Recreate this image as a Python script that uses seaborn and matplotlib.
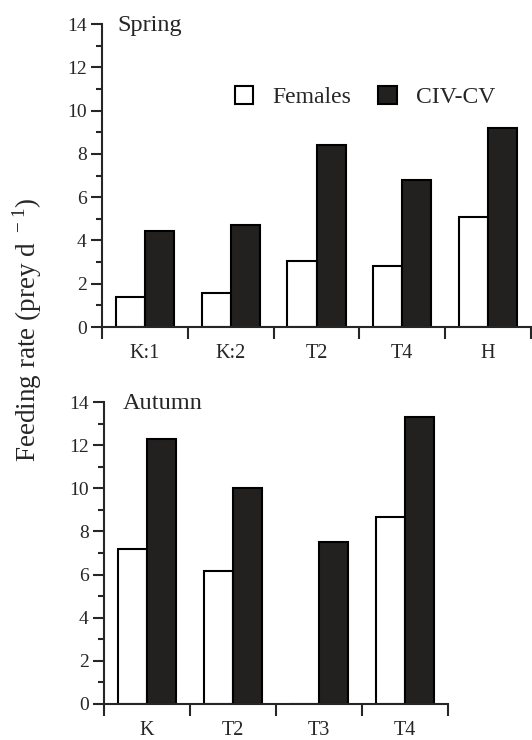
import seaborn as sns
import pandas as pd
import matplotlib.pyplot as plt
from matplotlib.ticker import MultipleLocator, FixedLocator, NullFormatter

sites_spring = ["K:1", "K:2", "T2", "T4", "H"]
females_spring = [1.4, 1.55, 3.05, 2.8, 5.1]
civcv_spring = [4.45, 4.7, 8.4, 6.8, 9.2]

sites_autumn = ["K", "T2", "T3", "T4"]
females_autumn = [7.2, 6.15, 0.0, 8.65]
civcv_autumn = [12.3, 10.0, 7.5, 13.3]

stages = ["Females", "CIV-CV"]
colours = {"Females": "white", "CIV-CV": "#231f20"}

sns.set_style("ticks")
plt.rcParams['font.family'] = ['Liberation Serif', 'DejaVu Serif']
plt.rcParams['mathtext.fontset'] = 'custom'
plt.rcParams['mathtext.rm'] = 'Liberation Serif'


def long_table(sites, fem, civ):
    rows = []
    for s, f, c in zip(sites, fem, civ):
        rows.append({"site": s, "stage": "Females", "rate": f})
        rows.append({"site": s, "stage": "CIV-CV", "rate": c})
    return pd.DataFrame(rows)


def panel(ax, sites, fem, civ, title, title_x, show_legend=False):
    df = long_table(sites, fem, civ)
    sns.barplot(data=df, x="site", y="rate", hue="stage", hue_order=stages,
                order=sites, palette=colours, edgecolor="black", linewidth=1.5,
                width=0.68, gap=0, ax=ax, legend=show_legend)
    n = len(sites)
    ax.set_xlim(-0.5, n - 0.5)
    ax.set_ylim(0, 14)
    sns.despine(ax=ax)
    for sp in ["left", "bottom"]:
        ax.spines[sp].set_linewidth(1.5)
    ax.yaxis.set_major_locator(MultipleLocator(2))
    ax.yaxis.set_minor_locator(MultipleLocator(1))
    ax.tick_params(axis="y", which="major", length=8, width=1.5, labelsize=14, pad=3)
    ax.tick_params(axis="y", which="minor", length=4, width=1.5)
    # boundary ticks as major, category labels on minor ticks
    ax.xaxis.set_major_locator(FixedLocator([i - 0.5 for i in range(n + 1)]))
    ax.xaxis.set_major_formatter(NullFormatter())
    ax.xaxis.set_minor_locator(FixedLocator(list(range(n))))
    ax.set_xticklabels(sites, minor=True)
    ax.tick_params(axis="x", which="major", length=8.5, width=1.5)
    ax.tick_params(axis="x", which="minor", length=0, labelsize=14.5, pad=12)
    ax.set_xlabel("")
    ax.set_ylabel("")
    ax.text(title_x, 1.03, title, transform=ax.transAxes, fontsize=17.5,
            ha="left", va="top")
    if show_legend:
        leg = ax.legend(loc="center left", bbox_to_anchor=(0.31, 0.759), ncol=2,
                        frameon=False, fontsize=17, borderpad=0, borderaxespad=0,
                        handlelength=0.78, handleheight=0.78, handletextpad=0.8,
                        columnspacing=1.15)
        leg.set_zorder(10)


fig = plt.figure(figsize=(5.32, 7.4), dpi=100)
ax1 = fig.add_axes([102 / 532, 1 - 327 / 740, 429 / 532, 303 / 740])
ax2 = fig.add_axes([104 / 532, 1 - 704 / 740, 344 / 532, 302 / 740])

panel(ax1, sites_spring, females_spring, civcv_spring, "Spring", 0.037, True)
panel(ax2, sites_autumn, females_autumn, civcv_autumn, "Autumn", 0.055)

fig.text(0.05, 0.554, r"Feeding rate (prey d $^{\rm -1}$)", rotation=90,
         ha="center", va="center", fontsize=19.5)

fig.savefig("out.png", dpi=100)
